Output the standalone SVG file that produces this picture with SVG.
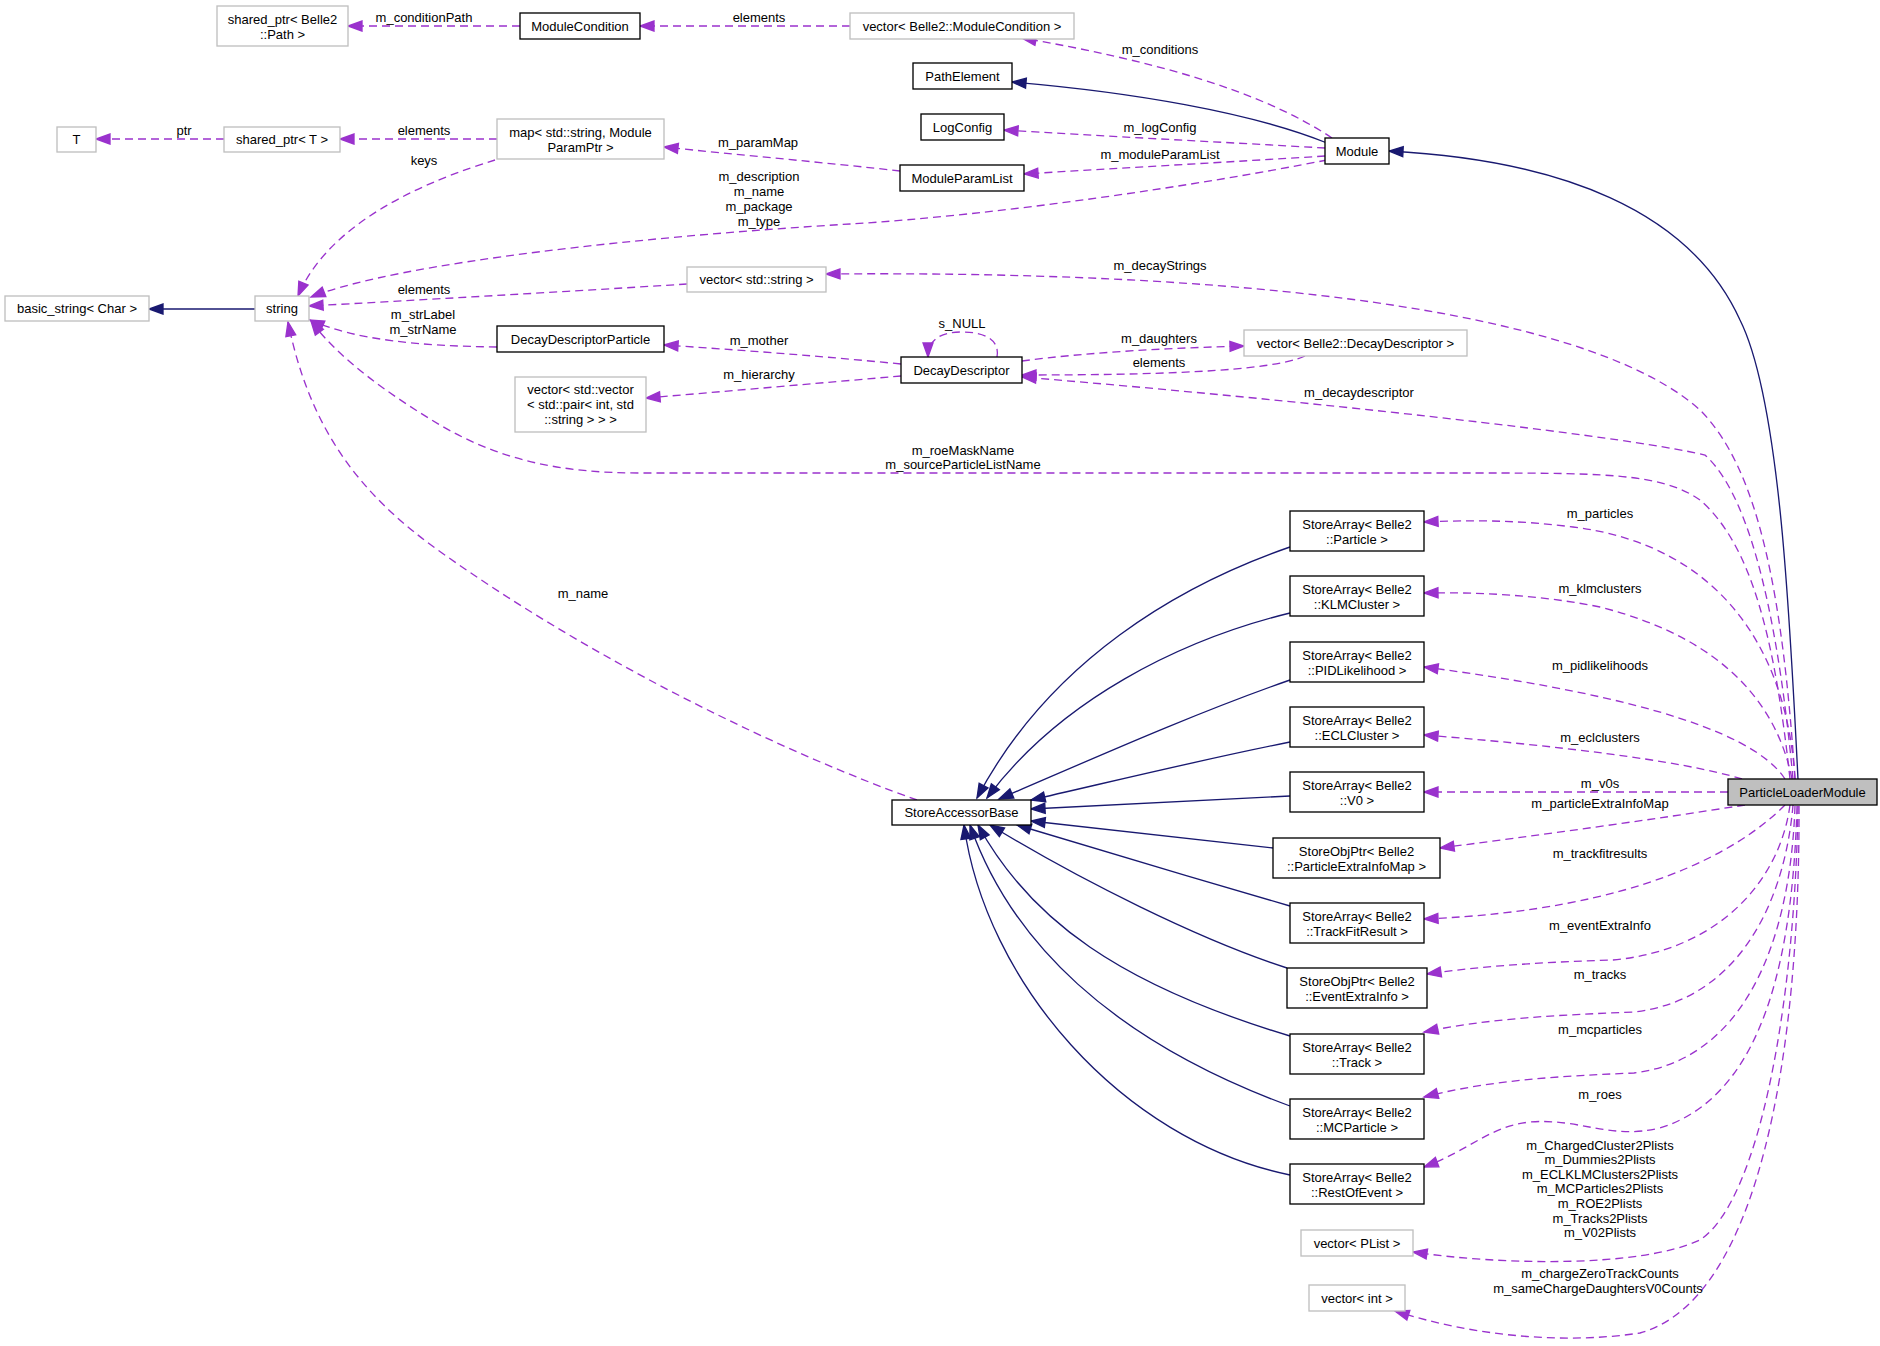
<svg xmlns="http://www.w3.org/2000/svg" width="1880" height="1346" viewBox="0 0 1880 1346">
<defs>
<style>
text{font-family:"Liberation Sans",Arial,Helvetica,sans-serif;font-size:13px;fill:#000;text-anchor:middle}
.n rect{fill:#fff;stroke:#000;stroke-width:1.33}
.g rect{fill:#fff;stroke:#bfbfbf;stroke-width:1.33}
.cur rect{fill:#bfbfbf;stroke:#000;stroke-width:1.33}
.u{fill:none;stroke:#9a32cd;stroke-width:1.33;stroke-dasharray:8,5;marker-end:url(#au)}
.i{fill:none;stroke:#191970;stroke-width:1.33;marker-end:url(#ai)}
</style>
<marker id="au" markerUnits="userSpaceOnUse" markerWidth="16" markerHeight="12" refX="14" refY="5" orient="auto" overflow="visible">
<path d="M0,0 L14,5 L0,10 Z" fill="#9a32cd" stroke="#9a32cd" stroke-width="1.33"/>
</marker>
<marker id="ai" markerUnits="userSpaceOnUse" markerWidth="16" markerHeight="12" refX="14" refY="5" orient="auto" overflow="visible">
<path d="M0,0 L14,5 L0,10 Z" fill="#191970" stroke="#191970" stroke-width="1.33"/>
</marker>
</defs>
<rect x="0" y="0" width="1880" height="1346" fill="#fff"/>

<g id="edges">
<path class="u" d="M520,26 L348,26"/>
<text x="424" y="22">m_conditionPath</text>
<path class="u" d="M850,26 L640,26"/>
<text x="759" y="22">elements</text>
<path class="u" d="M1332,138 C1260,90 1150,60 1022,38"/>
<text x="1160" y="54">m_conditions</text>
<path class="i" d="M1327,143 C1250,112 1130,92 1012,82"/>
<path class="u" d="M1325,148 C1220,142 1100,136 1004,130"/>
<text x="1160" y="132">m_logConfig</text>
<path class="u" d="M1325,156 C1230,162 1120,168 1024,174"/>
<text x="1160" y="159">m_moduleParamList</text>
<path class="u" d="M1327,160 C1200,185 1000,215 850,224 C650,236 400,262 311,297"/>
<text x="759" y="181">m_description</text>
<text x="759" y="196">m_name</text>
<text x="759" y="211">m_package</text>
<text x="759" y="226">m_type</text>
<path class="u" d="M497,139 L340,139"/>
<text x="424" y="135">elements</text>
<path class="u" d="M224,139 L96,139"/>
<text x="184" y="135">ptr</text>
<path class="u" d="M495,160 C430,180 330,220 298,296"/>
<text x="424" y="165">keys</text>
<path class="u" d="M900,171 C830,163 740,155 664,147"/>
<text x="758" y="147">m_paramMap</text>
<path class="i" d="M255,309 L149,309"/>
<path class="u" d="M687,284 C560,292 420,300 309,306"/>
<text x="424" y="294">elements</text>
<path class="u" d="M497,347 C420,346 355,340 310,320"/>
<text x="423" y="319">m_strLabel</text>
<text x="423" y="334">m_strName</text>
<path class="u" d="M901,364 C820,356 740,350 664,345"/>
<text x="759" y="345">m_mother</text>
<path class="u" d="M901,376 C820,383 730,391 646,398"/>
<text x="759" y="379">m_hierarchy</text>
<path class="u" d="M997,357 C1000,340 985,332 962,332 C940,332 928,340 928,357"/>
<text x="962" y="328">s_NULL</text>
<path class="u" d="M1022,361 C1090,352 1170,348 1244,346"/>
<text x="1159" y="343">m_daughters</text>
<path class="u" d="M1305,356 C1270,372 1150,375 1022,375"/>
<text x="1159" y="367">elements</text>
<path class="i" d="M1798,779 C1790,620 1780,400 1740,320 C1690,210 1560,160 1389,151"/>
<path class="u" d="M1795,779 C1783,600 1760,470 1700,410 C1600,320 1300,270 826,274"/>
<text x="1160" y="270">m_decayStrings</text>
<path class="u" d="M1793,779 C1780,640 1755,500 1705,455 C1620,435 1300,400 1022,377"/>
<text x="1359" y="397">m_decaydescriptor</text>
<path class="u" d="M1790,779 C1775,640 1752,545 1700,500 C1660,472 1600,473 1450,473 L640,473 C560,473 500,460 440,425 C390,395 340,360 311,321"/>
<text x="963" y="455">m_roeMaskName</text>
<text x="963" y="469">m_sourceParticleListName</text>
<path class="u" d="M917,800 C790,755 600,665 442,553 C360,495 310,430 288,322"/>
<text x="583" y="598">m_name</text>

<path class="u" d="M1795,779 C1787,650 1720,545 1573,527 C1520,520 1470,520 1424,522"/>
<text x="1600" y="518">m_particles</text>
<path class="u" d="M1792,779 C1778,710 1730,640 1600,607 C1540,595 1480,592 1424,593"/>
<text x="1600" y="593">m_klmclusters</text>
<path class="u" d="M1785,779 C1750,725 1600,690 1424,667"/>
<text x="1600" y="670">m_pidlikelihoods</text>
<path class="u" d="M1742,779 C1680,760 1550,745 1424,735"/>
<text x="1600" y="742">m_eclclusters</text>
<path class="u" d="M1728,792 L1424,792"/>
<text x="1600" y="788">m_v0s</text>
<path class="u" d="M1745,805 C1650,820 1540,835 1440,848"/>
<text x="1600" y="808">m_particleExtraInfoMap</text>
<path class="u" d="M1785,805 C1740,850 1640,910 1424,919"/>
<text x="1600" y="858">m_trackfitresults</text>
<path class="u" d="M1790,805 C1780,880 1720,950 1613,960 C1550,962 1490,965 1427,974"/>
<text x="1600" y="930">m_eventExtraInfo</text>
<path class="u" d="M1793,805 C1785,900 1740,1000 1634,1012 C1560,1015 1490,1018 1424,1032"/>
<text x="1600" y="979">m_tracks</text>
<path class="u" d="M1795,806 C1790,950 1740,1060 1634,1073 C1560,1076 1490,1080 1424,1097"/>
<text x="1600" y="1034">m_mcparticles</text>
<path class="u" d="M1797,806 C1792,990 1750,1100 1660,1128 C1610,1140 1580,1118 1530,1122 C1490,1126 1470,1150 1424,1167"/>
<text x="1600" y="1099">m_roes</text>
<path class="u" d="M1798,806 C1795,1000 1760,1200 1700,1240 C1640,1268 1500,1265 1413,1252"/>
<text x="1600" y="1149.5">m_ChargedCluster2Plists</text>
<text x="1600" y="1164.1">m_Dummies2Plists</text>
<text x="1600" y="1178.7">m_ECLKLMClusters2Plists</text>
<text x="1600" y="1193.3">m_MCParticles2Plists</text>
<text x="1600" y="1207.9">m_ROE2Plists</text>
<text x="1600" y="1222.5">m_Tracks2Plists</text>
<text x="1600" y="1237.1">m_V02Plists</text>
<path class="u" d="M1799,806 C1800,1050 1760,1300 1640,1333 C1560,1345 1470,1335 1395,1311"/>
<text x="1600" y="1278">m_chargeZeroTrackCounts</text>
<text x="1598" y="1293">m_sameChargeDaughtersV0Counts</text>

<path class="i" d="M1290,547 C1180,585 1050,660 977,798"/>
<path class="i" d="M1290,613 C1180,640 1060,700 987,798"/>
<path class="i" d="M1290,680 C1190,715 1090,760 999,799"/>
<path class="i" d="M1290,742 C1200,760 1110,782 1031,800"/>
<path class="i" d="M1290,796 L1031,809"/>
<path class="i" d="M1273,848 L1031,821"/>
<path class="i" d="M1290,906 C1200,880 1100,850 1017,825"/>
<path class="i" d="M1287,968 C1200,940 1080,880 990,825"/>
<path class="i" d="M1290,1036 C1120,985 1030,920 978,825"/>
<path class="i" d="M1290,1106 C1110,1040 1010,940 970,825"/>
<path class="i" d="M1290,1175 C1120,1140 985,980 964,825"/>
</g>

<g id="n_sp_path" class="g"><rect x="217" y="6" width="131" height="40"/><text x="282.5" y="23.5">shared_ptr&lt; Belle2</text><text x="282.5" y="38.5">::Path &gt;</text></g>
<g id="n_modcond" class="n"><rect x="520" y="13" width="120" height="26"/><text x="580" y="30.5">ModuleCondition</text></g>
<g id="n_vec_modcond" class="g"><rect x="850" y="13" width="224" height="26"/><text x="962" y="30.5">vector&lt; Belle2::ModuleCondition &gt;</text></g>
<g id="n_pathelement" class="n"><rect x="913" y="63" width="99" height="26"/><text x="962.5" y="80.5">PathElement</text></g>
<g id="n_logconfig" class="n"><rect x="921" y="114" width="83" height="26"/><text x="962.5" y="131.5">LogConfig</text></g>
<g id="n_T" class="g"><rect x="57" y="127" width="39" height="25"/><text x="76.5" y="144">T</text></g>
<g id="n_sp_T" class="g"><rect x="224" y="127" width="116" height="25"/><text x="282" y="144">shared_ptr&lt; T &gt;</text></g>
<g id="n_map" class="g"><rect x="497" y="119" width="167" height="40"/><text x="580.5" y="136.5">map&lt; std::string, Module</text><text x="580.5" y="151.5">ParamPtr &gt;</text></g>
<g id="n_moduleparamlist" class="n"><rect x="900" y="165" width="124" height="26"/><text x="962" y="182.5">ModuleParamList</text></g>
<g id="n_module" class="n"><rect x="1325" y="138" width="64" height="26"/><text x="1357" y="155.5">Module</text></g>
<g id="n_basic_string" class="g"><rect x="5" y="296" width="144" height="25"/><text x="77" y="313">basic_string&lt; Char &gt;</text></g>
<g id="n_string" class="g"><rect x="255" y="296" width="54" height="25"/><text x="282" y="313">string</text></g>
<g id="n_vec_string" class="g"><rect x="687" y="267" width="139" height="25"/><text x="756.5" y="284">vector&lt; std::string &gt;</text></g>
<g id="n_ddp" class="n"><rect x="497" y="326" width="167" height="26"/><text x="580.5" y="343.5">DecayDescriptorParticle</text></g>
<g id="n_dd" class="n"><rect x="901" y="357" width="121" height="26"/><text x="961.5" y="374.5">DecayDescriptor</text></g>
<g id="n_vec_dd" class="g"><rect x="1244" y="330" width="223" height="26"/><text x="1355.5" y="347.5">vector&lt; Belle2::DecayDescriptor &gt;</text></g>
<g id="n_vec_vec" class="g"><rect x="515" y="377" width="131" height="55"/><text x="580.5" y="393.5">vector&lt; std::vector</text><text x="580.5" y="408.5">&lt; std::pair&lt; int, std</text><text x="580.5" y="423.5">::string &gt; &gt; &gt;</text></g>
<g id="n_sab" class="n"><rect x="892" y="800" width="139" height="25"/><text x="961.5" y="817">StoreAccessorBase</text></g>

<g id="n_sa_particle" class="n"><rect x="1290" y="511" width="134" height="40"/><text x="1357" y="528.5">StoreArray&lt; Belle2</text><text x="1357" y="543.5">::Particle &gt;</text></g>
<g id="n_sa_klm" class="n"><rect x="1290" y="576" width="134" height="40"/><text x="1357" y="593.5">StoreArray&lt; Belle2</text><text x="1357" y="608.5">::KLMCluster &gt;</text></g>
<g id="n_sa_pid" class="n"><rect x="1290" y="642" width="134" height="40"/><text x="1357" y="659.5">StoreArray&lt; Belle2</text><text x="1357" y="674.5">::PIDLikelihood &gt;</text></g>
<g id="n_sa_ecl" class="n"><rect x="1290" y="707" width="134" height="40"/><text x="1357" y="724.5">StoreArray&lt; Belle2</text><text x="1357" y="739.5">::ECLCluster &gt;</text></g>
<g id="n_sa_v0" class="n"><rect x="1290" y="772" width="134" height="40"/><text x="1357" y="789.5">StoreArray&lt; Belle2</text><text x="1357" y="804.5">::V0 &gt;</text></g>
<g id="n_sop_peim" class="n"><rect x="1273" y="838" width="167" height="40"/><text x="1356.5" y="855.5">StoreObjPtr&lt; Belle2</text><text x="1356.5" y="870.5">::ParticleExtraInfoMap &gt;</text></g>
<g id="n_sa_tfr" class="n"><rect x="1290" y="903" width="134" height="40"/><text x="1357" y="920.5">StoreArray&lt; Belle2</text><text x="1357" y="935.5">::TrackFitResult &gt;</text></g>
<g id="n_sop_eei" class="n"><rect x="1287" y="968" width="140" height="40"/><text x="1357" y="985.5">StoreObjPtr&lt; Belle2</text><text x="1357" y="1000.5">::EventExtraInfo &gt;</text></g>
<g id="n_sa_track" class="n"><rect x="1290" y="1034" width="134" height="40"/><text x="1357" y="1051.5">StoreArray&lt; Belle2</text><text x="1357" y="1066.5">::Track &gt;</text></g>
<g id="n_sa_mc" class="n"><rect x="1290" y="1099" width="134" height="40"/><text x="1357" y="1116.5">StoreArray&lt; Belle2</text><text x="1357" y="1131.5">::MCParticle &gt;</text></g>
<g id="n_sa_roe" class="n"><rect x="1290" y="1164" width="134" height="40"/><text x="1357" y="1181.5">StoreArray&lt; Belle2</text><text x="1357" y="1196.5">::RestOfEvent &gt;</text></g>
<g id="n_vec_plist" class="g"><rect x="1301" y="1230" width="112" height="26"/><text x="1357" y="1247.5">vector&lt; PList &gt;</text></g>
<g id="n_vec_int" class="g"><rect x="1309" y="1285" width="96" height="26"/><text x="1357" y="1302.5">vector&lt; int &gt;</text></g>
<g id="n_plm" class="cur"><rect x="1728" y="779" width="149" height="26"/><text x="1802.5" y="796.5">ParticleLoaderModule</text></g>
</svg>
